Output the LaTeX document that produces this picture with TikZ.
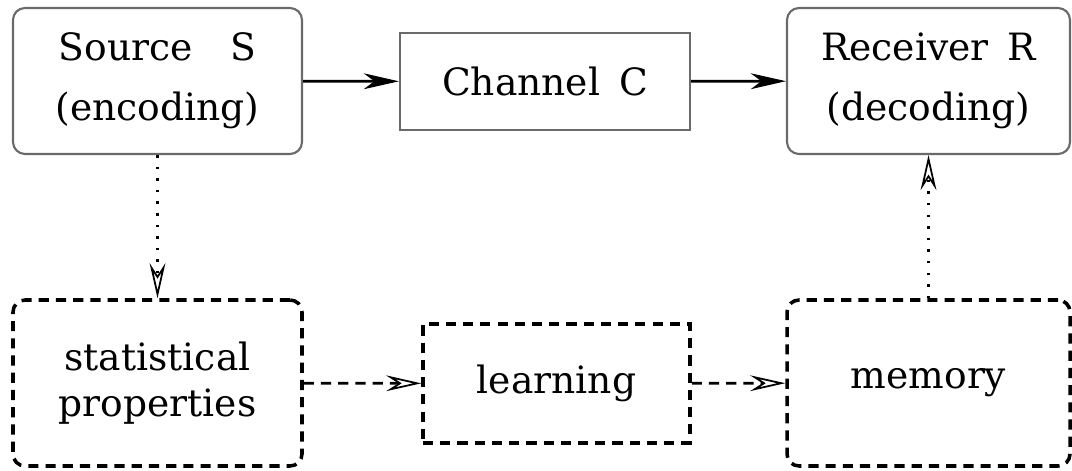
\documentclass[tikz,border=0pt]{standalone}
\usepackage{fontspec}
\setmainfont{DejaVu Serif}
\usetikzlibrary{arrows.meta}
\definecolor{boxgray}{HTML}{6A6A6A}

\begin{document}
\begin{tikzpicture}[
    font=\fontsize{10.7}{13}\selectfont,
    % solid blocks of the transmission chain
    chainbox/.style={draw=boxgray, line width=0.6pt, align=center,
                     inner sep=0pt},
    % dashed blocks of the statistical side
    statbox/.style={draw=black, line width=1pt,
                    dash pattern=on 2.9pt off 2pt, align=center,
                    inner sep=0pt},
    flow/.style={line width=0.8pt,
                 -{Stealth[length=10pt, width=4.5pt, inset=3pt]}},
    hint/.style={line width=0.7pt, dash pattern=on 0.7pt off 2.6pt,
                 -{Stealth[open, line width=0.5pt,
                   length=10pt, width=4.5pt, inset=3.5pt]}},
    feed/.style={line width=0.8pt, dash pattern=on 2.9pt off 2pt,
                 -{Stealth[open, line width=0.5pt,
                   length=10pt, width=4.5pt, inset=3.5pt]}}]
  \useasboundingbox (0,0) rectangle (10.72,-4.71);

  % upper row: source -> channel -> receiver
  \node[chainbox, rounded corners=0.12cm,
        minimum width=2.89cm, minimum height=1.46cm]
        (source) at (1.575,-0.81) {Source\quad S\\[4pt](encoding)};
  \node[chainbox, minimum width=2.90cm, minimum height=0.97cm]
        (channel) at (5.45,-0.815) {Channel\enspace C};
  \node[chainbox, rounded corners=0.12cm,
        minimum width=2.83cm, minimum height=1.46cm]
        (receiver) at (9.285,-0.81) {Receiver\enspace R\\[4pt](decoding)};

  % lower row: statistics -> learning -> memory
  \node[statbox, rounded corners=0.12cm,
        minimum width=2.89cm, minimum height=1.66cm]
        (stats) at (1.575,-3.83) {statistical\\properties};
  \node[statbox, minimum width=2.67cm, minimum height=1.19cm]
        (learning) at (5.565,-3.835) {learning};
  \node[statbox, rounded corners=0.12cm,
        minimum width=2.83cm, minimum height=1.66cm]
        (memory) at (9.285,-3.83) {memory};

  \draw[flow] (source) -- (channel);
  \draw[flow] (channel) -- (receiver);
  \draw[hint] (source) -- (stats);
  \draw[hint] (memory) -- (receiver);
  \draw[feed] (stats) -- (learning);
  \draw[feed] (learning) -- (memory);
\end{tikzpicture}
\end{document}
